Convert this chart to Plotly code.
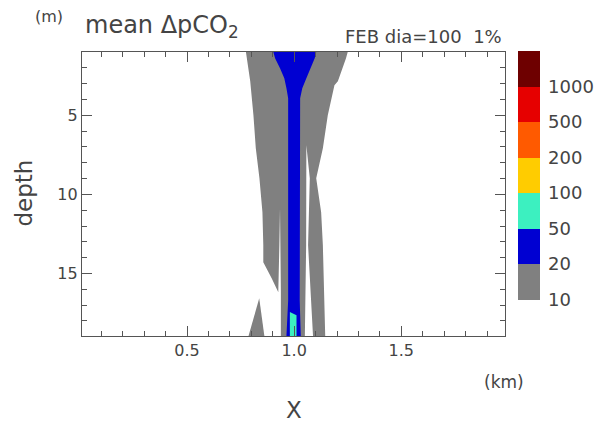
import plotly.graph_objects as go

# Contour classes of mean delta-pCO2 and their colours
levels = ["10", "20", "50", "100", "200", "500", "1000"]
class_colors = ["#808080", "#0000d2", "#3cf0c0", "#ffcc00",
                "#ff5a00", "#e60000", "#6e0000"]

# 10-20 class outline (km, m), slits included as notches
gray_x = [0.775, 1.250, 1.242, 1.219, 1.204, 1.188, 1.173, 1.157, 1.134, 1.103,
          1.126, 1.134, 1.145, 1.088, 1.065, 1.073, 1.057, 1.056, 1.050, 0.938,
          0.938, 0.935, 0.934, 0.931, 0.926, 0.895, 0.856, 0.856, 0.852, 0.838,
          0.821, 0.810, 0.795, 0.775]
gray_d = [1.00, 1.00, 1.40, 2.22, 2.85, 3.10, 3.93, 5.00, 7.09, 8.98,
          11.13, 13.22, 18.95, 18.95, 13.22, 8.98, 6.90, 13.22, 18.95, 18.95,
          16.19, 13.22, 10.88, 13.22, 16.19, 15.30, 14.29, 13.22, 11.13, 8.98,
          7.09, 5.00, 2.85, 1.00]

# separate 10-20 patch near the bottom
gray2_x = [0.787, 0.837, 0.861, 0.787]
gray2_d = [18.95, 16.57, 18.95, 18.95]

# 20-50 class outline
blue_x = [0.903, 0.911, 0.934, 0.954, 0.964, 0.972, 0.972, 0.964,
          1.031, 1.026, 1.028, 1.038, 1.057, 1.077, 1.096, 1.103, 0.903]
blue_d = [1.00, 1.40, 2.03, 2.66, 3.29, 3.93, 16.70, 18.95,
          18.95, 16.70, 3.93, 3.29, 2.66, 2.03, 1.40, 1.00, 1.00]

# 50-100 class outline
aqua_x = [0.980, 0.980, 1.011, 1.011, 0.980]
aqua_d = [18.95, 17.43, 17.64, 18.95, 18.95]

FONT = "DejaVu Sans"
TXT = "#444444"
AX = "#555555"

fig = go.Figure()

for xs, ds, col in [(gray_x, gray_d, class_colors[0]),
                    (gray2_x, gray2_d, class_colors[0]),
                    (blue_x, blue_d, class_colors[1]),
                    (aqua_x, aqua_d, class_colors[2])]:
    fig.add_trace(go.Scatter(x=xs, y=ds, mode="lines", fill="toself",
                             fillcolor=col, line=dict(width=0, color=col),
                             hoverinfo="skip", showlegend=False))

# discrete colour key
n = len(class_colors)
cscale = []
for i, c in enumerate(class_colors):
    cscale.append([i / n, c])
    cscale.append([(i + 1) / n, c])

fig.add_trace(go.Scatter(
    x=[None], y=[None], mode="markers", showlegend=False, hoverinfo="skip",
    marker=dict(color=[0], cmin=0, cmax=n, colorscale=cscale, showscale=True,
                colorbar=dict(
                    xref="container", yref="container",
                    x=518 / 600, xanchor="left",
                    y=1 - 76 / 426, yanchor="top",
                    lenmode="pixels", len=249,
                    thicknessmode="pixels", thickness=22,
                    xpad=0, ypad=0, outlinewidth=0,
                    tickmode="array", tickvals=list(range(n)), ticktext=levels,
                    ticks="outside", ticklen=5, tickcolor="rgba(0,0,0,0)",
                    tickfont=dict(family=FONT, size=18, color=TXT)))))

axis_common = dict(showline=True, linecolor=AX, linewidth=1.2, mirror="allticks",
                   ticks="inside", tickcolor=AX, tickwidth=1, ticklen=10,
                   showgrid=False, zeroline=False,
                   tickfont=dict(family=FONT, size=16, color=TXT))

fig.update_xaxes(range=[0.01, 1.983], tick0=0, dtick=0.5, tickformat=".1f",
                 minor=dict(dtick=0.1, tick0=0, ticks="inside", ticklen=5,
                            tickcolor=AX, showgrid=False),
                 **axis_common)
fig.update_yaxes(range=[18.95, 1.0], tick0=0, dtick=5,
                 minor=dict(dtick=1, tick0=0, ticks="inside", ticklen=5,
                            tickcolor=AX, showgrid=False),
                 **axis_common)

def ann(text, x, y, size, xanchor="center", angle=0):
    fig.add_annotation(text=text, x=x, y=y, xref="paper", yref="paper",
                       xanchor=xanchor, yanchor="middle", showarrow=False,
                       textangle=angle,
                       font=dict(family=FONT, size=size, color=TXT))

ann("mean \u0394pCO<sub>2</sub>", 0.002, 1.090, 24, "left")
ann("(m)", -0.115, 1.125, 16, "left")
ann("FEB dia=100 \u00a01%", 0.998, 1.054, 18, "right")
ann("(km)", 0.998, -0.161, 17)
ann("X", 0.502, -0.261, 23)
ann("depth", -0.138, 0.504, 23, angle=-90)

fig.update_layout(width=600, height=426,
                  margin=dict(l=82, r=92, t=52, b=90),
                  paper_bgcolor="white", plot_bgcolor="white")

fig.write_html("out.html")
